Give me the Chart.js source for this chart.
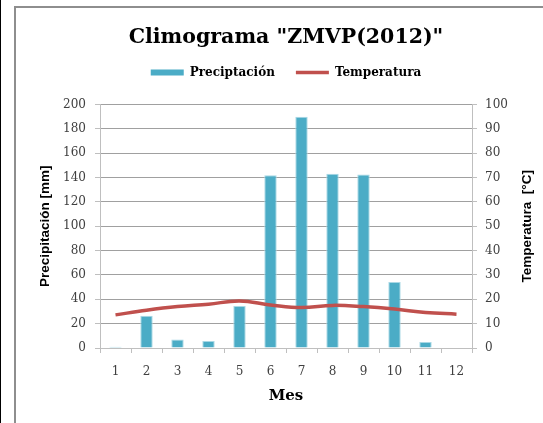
<!DOCTYPE html>
<html>
<head>
<meta charset="utf-8">
<script src="https://cdn.jsdelivr.net/npm/chart.js@4"></script>
<style>
html, body { margin:0; padding:0; background:#fff; overflow:hidden; }
#edge { position:absolute; left:0; top:0; width:1px; height:423px; background:#000; }
#frame { position:absolute; left:14px; top:6px; width:600px; height:500px; border-left:2px solid #8e8e8e; border-top:2px solid #8e8e8e; }
#mycanvas { position:absolute; left:0; top:0; }
</style>
</head>
<body>
<div id="edge"></div>
<div id="frame"></div>
<canvas id="mycanvas" width="543" height="423"></canvas>
<script>
var meses = ['1', '2', '3', '4', '5', '6', '7', '8', '9', '10', '11', '12'];
var precipitacion = [1, 26.5, 7, 5.7, 34.5, 141.8, 190, 143.2, 142.5, 54.2, 5, 0];
var temperatura = [13.6, 15.5, 17, 18, 19.3, 17.7, 16.6, 17.5, 17, 16, 14.6, 13.9];

var titulo = 'Climograma "ZMVP(2012)"';
var tituloIzq = 'Precipitación [mm]';
var tituloDer = 'Temperatura  [°C]';
var tituloX = 'Mes';

Chart.defaults.font.family = 'DejaVu Serif';
Chart.defaults.color = '#404040';

// titulo del eje derecho, leido de abajo hacia arriba como en Excel
var ejeDerecho = {
	id: 'ejeDerecho',
	afterDraw: function(chart) {
		var ctx = chart.ctx;
		var s = chart.scales.y1;
		ctx.save();
		ctx.translate(s.right - 16, (s.top + s.bottom) / 2);
		ctx.rotate(-Math.PI / 2);
		ctx.font = 'bold 13.5px "Liberation Sans"';
		ctx.fillStyle = '#000';
		ctx.textAlign = 'center';
		ctx.textBaseline = 'middle';
		ctx.fillText(tituloDer, 0, 0);
		ctx.restore();
	}
};

var ctx = document.getElementById('mycanvas');

var grafico = new Chart(ctx, {
	data: {
		labels: meses,
		datasets: [
			{
				type: 'line',
				label: 'Temperatura',
				data: temperatura,
				yAxisID: 'y1',
				borderColor: '#C0504D',
				backgroundColor: '#C0504D',
				borderWidth: 3.5,
				pointRadius: 0,
				tension: 0.4
			},
			{
				type: 'bar',
				label: 'Preciptación',
				data: precipitacion,
				yAxisID: 'y',
				backgroundColor: '#4BACC6',
				borderColor: '#A9D8E5',
				borderWidth: 1,
				categoryPercentage: 1,
				barPercentage: 0.4
			}
		]
	},
	plugins: [ejeDerecho],
	options: {
		responsive: false,
		animation: false,
		layout: { padding: 0 },
		plugins: {
			tooltip: { enabled: false },
			title: {
				display: true,
				text: titulo,
				fullSize: false,
				color: '#000',
				font: { size: 20.5, weight: 'bold', lineHeight: 1 },
				padding: { top: 27, bottom: -2 }
			},
			subtitle: {
				display: true,
				text: '',
				fullSize: false,
				weight: 500,
				font: { size: 10, lineHeight: 1 },
				padding: { top: 6, bottom: 0 }
			},
			legend: {
				display: true,
				position: 'top',
				fullSize: false,
				labels: {
					color: '#000',
					font: { size: 12, weight: 'bold' },
					usePointStyle: true,
					pointStyleWidth: 33,
					boxHeight: 6,
					padding: 21,
					sort: function(a, b) { return b.datasetIndex - a.datasetIndex; },
					generateLabels: function(chart) {
						var items = Chart.defaults.plugins.legend.labels.generateLabels(chart);
						items.forEach(function(it) {
							if (it.datasetIndex === 0) {
								it.pointStyle = 'line';
								it.lineWidth = 3.5;
							} else {
								it.pointStyle = 'rect';
								it.lineWidth = 0;
							}
						});
						return items;
					}
				}
			}
		},
		scales: {
			x: {
				offset: true,
				afterFit: function(s) { s.height = 75; },
				border: { color: '#BFBFBF' },
				grid: { offset: true, drawOnChartArea: false, drawTicks: true, tickLength: 5, color: '#BFBFBF' },
				ticks: { padding: 12, font: { size: 12 }, color: '#404040', maxRotation: 0 },
				title: {
					display: true,
					text: tituloX,
					color: '#000',
					font: { size: 15, weight: 'bold', lineHeight: 1.2 },
					padding: { top: 0, bottom: 18 }
				}
			},
			y: {
				position: 'left',
				min: 0,
				max: 200,
				afterFit: function(s) { s.width = 100; },
				border: { color: '#BFBFBF' },
				grid: { color: '#A0A0A0', tickColor: '#BFBFBF', tickLength: 5 },
				ticks: { stepSize: 20, padding: 9, font: { size: 12 }, color: '#404040' },
				title: {
					display: true,
					text: tituloIzq,
					color: '#000',
					font: { family: 'Liberation Sans', size: 13.5, weight: 'bold', lineHeight: 1.2 },
					padding: { top: 37, bottom: 0 }
				}
			},
			y1: {
				position: 'right',
				min: 0,
				max: 100,
				afterFit: function(s) { s.width = 71; },
				border: { color: '#BFBFBF' },
				grid: { drawOnChartArea: false, color: '#BFBFBF', tickLength: 5 },
				ticks: { stepSize: 10, padding: 8, font: { size: 12 }, color: '#404040' }
			}
		}
	}
});
</script>
</body>
</html>
